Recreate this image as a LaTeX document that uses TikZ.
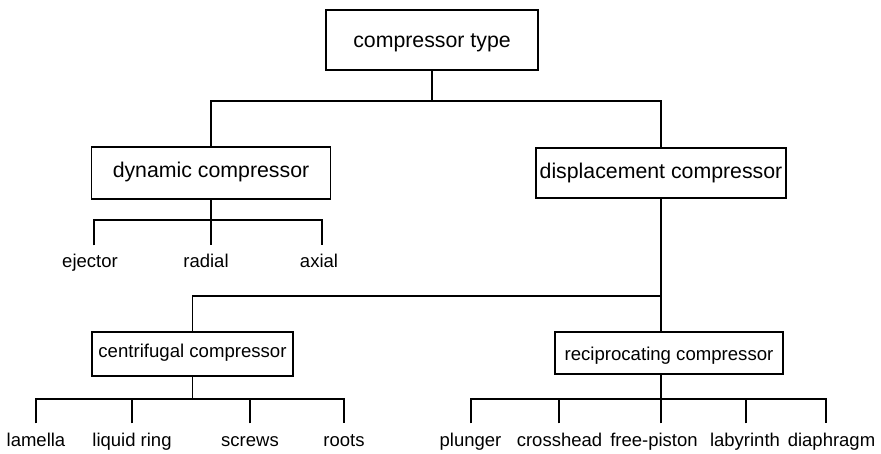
\documentclass[tikz,border=0pt]{standalone}
\usepackage{fontspec}
\setmainfont{Liberation Sans}
\begin{document}
\begin{tikzpicture}[x=1pt,y=-1pt,line width=1.2pt,
  bigbox/.style={draw,inner sep=0pt,font=\fontsize{21.3}{24}\selectfont},
  smallbox/.style={draw,inner sep=0pt,font=\fontsize{18.6}{22}\selectfont},
  leaf/.style={anchor=base,inner xsep=0pt,inner ysep=8pt,text height=14pt,text depth=4pt,font=\fontsize{18.5}{22}\selectfont}]
\useasboundingbox (0,0) rectangle (881,454);
% boxes
\node[bigbox,minimum width=212pt,minimum height=60pt,text height=16pt,text depth=1.4pt] (top) at (432,40) {compressor type};
\node[bigbox,minimum width=239pt,minimum height=52pt,text height=15pt,text depth=5pt] (dyn) at (211,173) {dynamic compressor};
\node[bigbox,minimum width=250pt,minimum height=50pt,text height=15pt,text depth=3pt] (disp) at (661,173) {displacement compressor};
\node[smallbox,minimum width=201pt,minimum height=44pt,text height=13pt,text depth=6.4pt] (cent) at (192.5,354) {centrifugal compressor};
\node[smallbox,minimum width=228pt,minimum height=42pt,text height=14pt,text depth=0pt] (recip) at (669,353) {reciprocating compressor};
% leaves
\node[leaf] (ej) at (90,268) {ejector};
\node[leaf] (rad) at (206,268) {radial};
\node[leaf] (ax) at (319,268) {axial};
\node[leaf] (lam) at (36,446) {lamella};
\node[leaf] (liq) at (132,446) {liquid ring};
\node[leaf] (scr) at (250,446) {screws};
\node[leaf] (roo) at (344,446) {roots};
\node[leaf] (plu) at (470.5,446) {plunger};
\node[leaf] (cro) at (559.5,446) {crosshead};
\node[leaf] (fre) at (654,446) {free-piston};
\node[leaf] (lab) at (745,446) {labyrinth};
\node[leaf] (dia) at (831.5,446) {diaphragm};
% junctions
\coordinate (j0) at (432,101);
\coordinate (j1) at (211,220);
\coordinate (j2) at (661,296);
\coordinate (j3) at (192.5,399);
\coordinate (j4) at (661,399);
% connectors
\draw (top.south) -- (j0);
\draw (dyn.north) |- (j0) -| (disp.north);
\draw (dyn.south) -- (j1);
\draw ([xshift=4pt]ej.north) |- (j1) -| ([xshift=3pt]ax.north);
\draw (j1) -- ([xshift=5pt]rad.north);
\draw (disp.south) -- (j2);
\draw (j2) -| (cent.north);
\draw (j2) -- (recip.north -| j2);
\draw (cent.south) -- (j3);
\draw (lam.north) |- (j3) -| (roo.north);
\draw (liq.north) -- (liq.north |- j3);
\draw (scr.north) -- (scr.north |- j3);
\draw (recip.south -| j4) -- (j4);
\draw ([xshift=0.5pt]plu.north) |- (j4) -| ([xshift=-5.5pt]dia.north);
\draw ([xshift=-0.5pt]cro.north) -- ([xshift=-0.5pt]cro.north |- j4);
\draw ([xshift=7pt]fre.north) -- (j4);
\draw ([xshift=1pt]lab.north) -- ([xshift=1pt]lab.north |- j4);
\end{tikzpicture}
\end{document}
